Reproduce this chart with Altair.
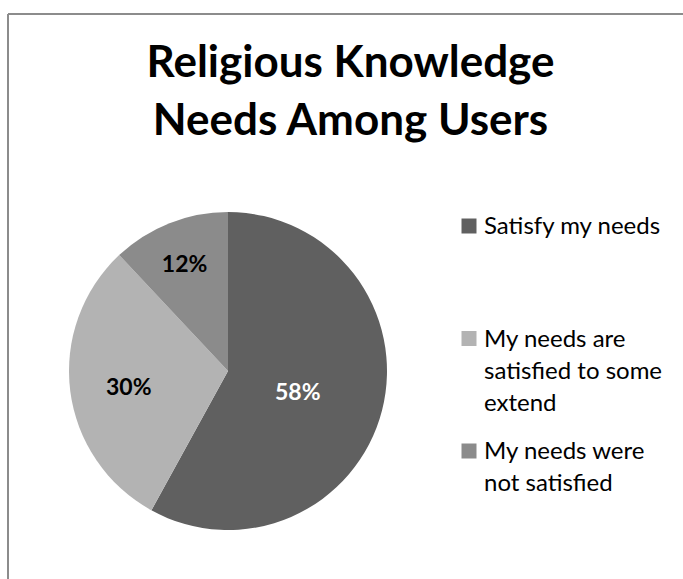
import json
import altair as alt
import pandas as pd

categories = ["Satisfy my needs",
              "My needs are satisfied to some extend",
              "My needs were not satisfied"]
values = [58, 30, 12]
legend_lines = [["Satisfy my needs"],
                ["My needs are", "satisfied to some", "extend"],
                ["My needs were", "not satisfied"]]
colors = ["#606060", "#b3b3b3", "#8b8b8b"]
title_lines = ["Religious Knowledge", "Needs Among Users"]

df = pd.DataFrame({"category": categories, "value": values})

parts = [f"datum.label === {json.dumps(c)} ? {json.dumps(l)}" for c, l in zip(categories, legend_lines)]
label_expr = " : ".join(parts) + " : datum.label"

W, H = 675, 565
CX, CY, R = 220, 357, 159

base = alt.Chart(df).transform_window(
    idx="row_number()"
).transform_window(
    cum="sum(value)", sort=[alt.SortField("idx")]
).transform_calculate(
    start="datum.cum - datum.value",
    mid="datum.cum - datum.value / 2",
    pct="datum.value + '%'",
    label_r="130 - datum.value",
)

theta_scale = alt.Scale(domain=[0, 100], range=[0, 6.283185307179586])

color = alt.Color(
    "category:N",
    scale=alt.Scale(domain=categories, range=colors),
    sort=categories,
    legend=alt.Legend(
        title=None, orient="none", legendX=449, legendY=200,
        symbolType="square", symbolSize=225, symbolStrokeWidth=0,
        symbolOpacity=1,
        labelFont="Lato", labelFontSize=24, labelColor="#000000",
        labelLimit=400, labelExpr=label_expr, labelBaseline="alphabetic",
        labelOffset=3, gridAlign="all", rowPadding=23.5,
    ),
)

arcs = base.mark_arc(radius=R).encode(
    theta=alt.Theta("start:Q", scale=theta_scale),
    theta2="cum:Q",
    color=color,
    x=alt.value(CX), y=alt.value(CY),
)

labels = base.mark_text(font="Lato", fontWeight="bold", fontSize=23,
                        align="center", baseline="middle", dy=4).encode(
    theta=alt.Theta("mid:Q", scale=theta_scale),
    radius=alt.Radius("label_r:Q", scale=None),
    text="pct:N",
    color=alt.condition(alt.datum.value > 50, alt.value("#ffffff"), alt.value("#000000")),
    x=alt.value(CX), y=alt.value(CY),
)

frame_data = alt.Data(values=[{}])
left_rule = alt.Chart(frame_data).mark_rule(color="#8c8c8c", strokeWidth=2).encode(
    x=alt.value(0), y=alt.value(0), y2=alt.value(H))
top_rule = alt.Chart(frame_data).mark_rule(color="#8c8c8c", strokeWidth=2).encode(
    x=alt.value(0), x2=alt.value(W), y=alt.value(0))

chart = alt.layer(arcs, labels, left_rule, top_rule).properties(
    width=W, height=H,
    autosize=alt.AutoSizeParams(type="none"),
    padding={"left": 8, "top": 14, "right": 0, "bottom": 0},
    title=alt.TitleParams(
        text=title_lines, font="Lato", fontSize=44, fontWeight="bold",
        color="#000000", anchor="middle", frame="group", baseline="top",
        offset=0, dy=131, dx=5, lineHeight=58,
    ),
).configure_view(stroke=None).configure(
    style={"guide-label": {"lineHeight": 32, "dy": 8}}
)

chart.save("out.html", embed_options={"renderer": "svg", "actions": False})
